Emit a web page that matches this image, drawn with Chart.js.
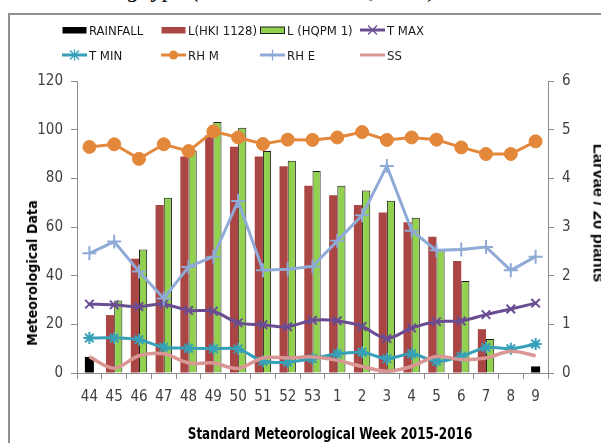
<!DOCTYPE html>
<html><head><meta charset="utf-8">
<script src="https://cdn.jsdelivr.net/npm/chart.js@4.4.1/dist/chart.umd.min.js"></script>
<style>
html,body{margin:0;padding:0;background:#fff;}
#wrap{position:relative;width:601px;height:443px;overflow:hidden;background:#fff;}
#frame{position:absolute;left:8px;top:13px;width:700px;height:600px;border:2px solid #8f8f8f;box-sizing:border-box;}
#cap{position:absolute;left:128px;top:-23px;font:italic 24px "Liberation Serif",serif;line-height:24px;white-space:nowrap;color:#000;}
canvas{position:absolute;left:0;top:0;}
.lg{position:absolute;height:16px;display:flex;align-items:center;font:13px "Liberation Sans Narrow","DejaVu Sans Condensed",sans-serif;color:#1a1a1a;white-space:nowrap;}
.lg svg{margin-right:2px;display:block;}
.t{position:absolute;font-weight:bold;white-space:nowrap;color:#000;transform-origin:center center;}
</style></head>
<body>
<div id="wrap">
  <div id="cap">g type (HKI 1128 and HQPM 1)</div>
  <div id="frame"></div>
  <canvas id="c" width="601" height="443"></canvas>
  <div id="legend"></div>
  <div class="t" id="yl" style="font:bold 14px 'Liberation Sans Narrow','DejaVu Sans Condensed',sans-serif;letter-spacing:0.1px;left:32px;top:273px;transform:translate(-50%,-50%) rotate(-90deg);">Meteorological Data</div>
  <div class="t" id="yr" style="font:bold 16.5px 'Liberation Sans',sans-serif;left:599px;top:213px;transform:translate(-50%,-50%) rotate(90deg);">Larvae / 20 plants</div>
  <div class="t" id="xl" style="font:bold 15px 'Liberation Sans Narrow','DejaVu Sans Condensed',sans-serif;left:330px;top:434px;transform:translate(-50%,-50%) scaleX(0.89);">Standard Meteorological Week 2015-2016</div>
</div>
<script>
// ---- data ----
const weeks = ['44','45','46','47','48','49','50','51','52','53','1','2','3','4','5','6','7','8','9'];
const rainfall   = [6.6,0,0,0,0,0,0,0,0,0,0,0,0,0,0,0,0,0,2.7];
const larvaeHKI  = [0,1.19,2.35,3.45,4.45,4.88,4.65,4.45,4.25,3.85,3.65,3.45,3.3,3.1,2.8,2.3,0.9,0,0];
const larvaeHQPM = [0,1.49,2.54,3.6,4.57,5.16,5.04,4.56,4.36,4.15,3.85,3.75,3.54,3.19,2.54,1.89,0.7,0,0];
const tMax = [28.3,28,27.3,28.3,25.7,25.4,20.6,19.8,19,21.7,21.5,19.1,14.2,18.5,21.1,21.4,24,26.3,28.7];
const tMin = [14.4,14.4,13.7,10.6,10.2,10,9.9,4.8,4.5,5.9,7.9,8.5,5.9,7.9,4.8,6.8,10.5,10,11.9];
const rhM  = [92.9,94,88,94,91.2,99.3,96.8,94.1,95.9,95.8,96.8,99,95.8,96.8,95.9,92.7,90,90,95.2];
const rhE  = [49.2,54,41.7,30.6,43.6,47.8,70.7,42.2,42.6,43.8,54.3,64.8,85.1,58.5,50.4,50.8,51.8,42.2,47.8];
const ss   = [6.6,2,7.1,7.9,4.1,4.1,1.9,6.2,6.2,6.6,5.2,2.7,0.7,2.7,6.8,5.5,6.2,8.9,7.1];
const leftTicks  = [0,20,40,60,80,100,120];
const rightTicks = [0,1,2,3,4,5,6];

const C = {
  rain:'#000000', hki:'#AA4643', hqpm:'#92D050', tmax:'#6A4C93', tmin:'#35A0B8',
  rhm:'#E3873A', rhe:'#8FAAD6', ss:'#D99694'
};
const tickFont = {family:"'Liberation Sans Narrow','DejaVu Sans Condensed',sans-serif", size:15};
const axisCol = '#8c8c8c';

const datasets = [
  {type:'bar', label:'RAINFALL', data:rainfall, yAxisID:'y', backgroundColor:C.rain, grouped:false, maxBarThickness:9, order:12},
  {type:'bar', label:'L(HKI 1128)', data:larvaeHKI, yAxisID:'y1', backgroundColor:C.hki, order:10, categoryPercentage:0.66, barPercentage:1},
  {type:'bar', label:'L (HQPM 1)', data:larvaeHQPM, yAxisID:'y1', backgroundColor:C.hqpm, borderColor:'#1e1e1e', borderWidth:1, order:11, categoryPercentage:0.66, barPercentage:1},
  {type:'line', label:'T MAX', data:tMax, yAxisID:'y', borderColor:C.tmax, backgroundColor:C.tmax, borderWidth:3, tension:0.3, pointStyle:'crossRot', pointRadius:6, pointBorderWidth:2, order:5},
  {type:'line', label:'T MIN', data:tMin, yAxisID:'y', borderColor:C.tmin, backgroundColor:C.tmin, borderWidth:3, tension:0.3, pointStyle:'star', pointRadius:6, pointBorderWidth:2, order:4},
  {type:'line', label:'RH M', data:rhM, yAxisID:'y', borderColor:C.rhm, backgroundColor:C.rhm, borderWidth:3, tension:0, pointStyle:'circle', pointRadius:6.5, pointBorderWidth:1, order:3},
  {type:'line', label:'RH E', data:rhE, yAxisID:'y', borderColor:C.rhe, backgroundColor:C.rhe, borderWidth:3, tension:0, pointStyle:'cross', pointRadius:7, pointBorderWidth:2, order:2},
  {type:'line', label:'SS', data:ss, yAxisID:'y', borderColor:C.ss, backgroundColor:C.ss, borderWidth:3.5, tension:0.35, pointRadius:0, order:1}
];

new Chart(document.getElementById('c'), {
  type:'bar',
  data:{labels:weeks, datasets:datasets},
  options:{
    responsive:false, animation:false, devicePixelRatio:1,
    layout:{padding:{left:0,right:0,top:81,bottom:0}},
    plugins:{legend:{display:false}, tooltip:{enabled:false}},
    scales:{
      x:{
        offset:true,
        grid:{offset:true, drawOnChartArea:false, drawTicks:true, tickLength:6, color:axisCol},
        border:{color:axisCol},
        ticks:{font:tickFont, color:'#404040', padding:9, maxRotation:0, autoSkip:false},
        afterFit:s=>{s.height=70;}
      },
      y:{
        position:'left', min:leftTicks[0], max:leftTicks[leftTicks.length-1],
        grid:{drawOnChartArea:false, tickLength:6, color:axisCol},
        border:{color:axisCol},
        ticks:{stepSize:leftTicks[1]-leftTicks[0], font:tickFont, color:'#404040', padding:8},
        afterFit:s=>{s.width=77;}
      },
      y1:{
        position:'right', min:rightTicks[0], max:rightTicks[rightTicks.length-1],
        grid:{drawOnChartArea:false, tickLength:6, color:axisCol},
        border:{color:axisCol},
        ticks:{stepSize:rightTicks[1]-rightTicks[0], font:tickFont, color:'#404040', padding:8},
        afterFit:s=>{s.width=53;}
      }
    }
  }
});

// ---- HTML legend (2 rows x 4 columns) ----
function swatch(ds){
  const w=25,h=16;
  if(ds.type==='bar'){
    const stroke = ds.borderWidth? `stroke="${ds.borderColor}" stroke-width="1"`:'';
    return `<svg width="${w}" height="${h}"><rect x="0.5" y="5" width="${w-1}" height="6.5" fill="${ds.backgroundColor}" ${stroke}/></svg>`;
  }
  const c=ds.borderColor, cx=w/2, cy=h/2;
  let m='';
  const r=4.5;
  if(ds.pointStyle==='crossRot') m=`<path d="M${cx-r} ${cy-r}L${cx+r} ${cy+r}M${cx+r} ${cy-r}L${cx-r} ${cy+r}" stroke="${c}" stroke-width="1.3"/>`;
  else if(ds.pointStyle==='star') m=`<path d="M${cx-r} ${cy-r}L${cx+r} ${cy+r}M${cx+r} ${cy-r}L${cx-r} ${cy+r}M${cx} ${cy-r-1}L${cx} ${cy+r+1}M${cx-r-1} ${cy}L${cx+r+1} ${cy}" stroke="${c}" stroke-width="1.3"/>`;
  else if(ds.pointStyle==='circle') m=`<circle cx="${cx}" cy="${cy}" r="4.5" fill="${c}"/>`;
  else if(ds.pointStyle==='cross') m=`<path d="M${cx} ${cy-r-1}L${cx} ${cy+r+1}" stroke="${c}" stroke-width="1.3"/>`;
  return `<svg width="${w}" height="${h}"><line x1="0" y1="${cy}" x2="${w}" y2="${cy}" stroke="${c}" stroke-width="3"/>${m}</svg>`;
}
const lg=document.getElementById('legend');
const colX=[62,161,260,360], rowY=[22,47];
datasets.forEach((ds,i)=>{
  const d=document.createElement('div');
  d.className='lg';
  d.style.left=colX[i%4]+'px';
  d.style.top=rowY[Math.floor(i/4)]+'px';
  d.innerHTML=swatch(ds)+'<span>'+ds.label+'</span>';
  lg.appendChild(d);
});
</script>
</body></html>
